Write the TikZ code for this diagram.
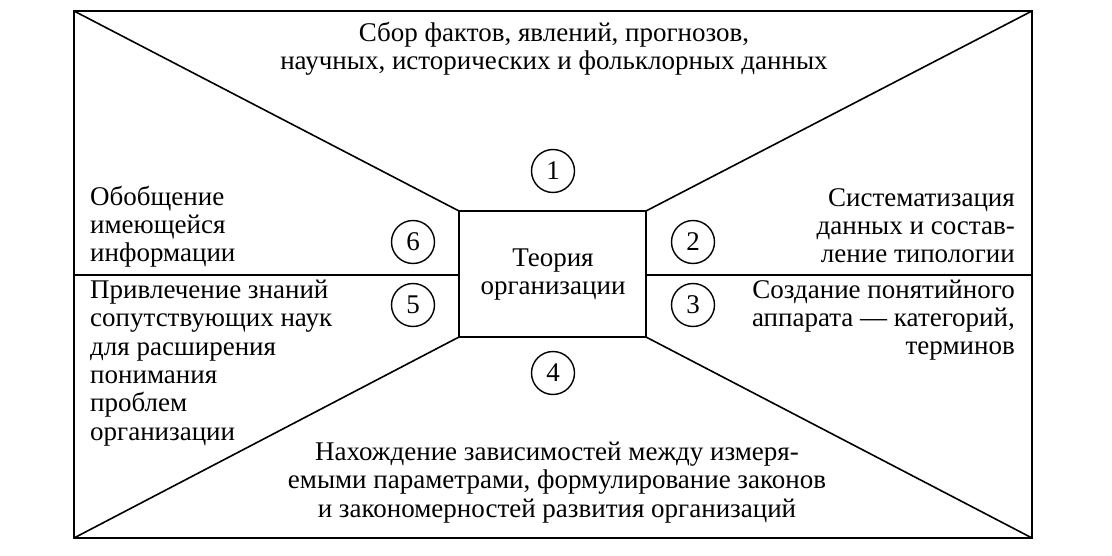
\documentclass[tikz,border=0pt]{standalone}
\usepackage{fontspec}
\setmainfont{Liberation Serif}
\begin{document}
\begin{tikzpicture}[x=1pt,y=-1pt,
  ln/.style={line width=1.6pt,line join=miter},
  txt/.style={inner sep=0pt,font=\fontsize{27}{28.3}\selectfont},
  num/.style={draw,circle,line width=1.4pt,minimum size=43pt,inner sep=0pt,font=\fontsize{27}{28}\selectfont}]
\useasboundingbox (0,0) rectangle (1112,556);
\fill[white] (0,0) rectangle (1112,556);
% outer and inner frames
\coordinate (A) at (74,11);
\coordinate (B) at (1032,11);
\coordinate (C) at (1032,538);
\coordinate (D) at (74,538);
\coordinate (a) at (459,211);
\coordinate (b) at (646,211);
\coordinate (c) at (646,337);
\coordinate (d) at (459,337);
\coordinate (L) at (74,275);
\coordinate (Li) at (459,275);
\coordinate (R) at (1032,275);
\coordinate (Ri) at (646,275);
\draw[ln] (A) rectangle (C);
\draw[ln] (a) rectangle (c);
\draw[ln] (A) -- (a) (B) -- (b) (C) -- (c) (D) -- (d);
\draw[ln] (L) -- (Li) (Ri) -- (R);
% texts (anchor base = baseline of the last line)
\node[txt,anchor=base,align=center] (top) at (554,70) {Сбор фактов, явлений, прогнозов,\\научных, исторических и фольклорных данных};
\node[txt,anchor=base,align=center] (center) at (553,295) {Теория\\организации};
\node[txt,anchor=base west,align=left] (t6) at (90,262) {Обобщение\\имеющейся\\информации};
\node[txt,anchor=base west,align=left] (t5) at (90,440) {Привлечение знаний\\сопутствующих наук\\для расширения\\понимания\\проблем\\организации};
\node[txt,anchor=base east,align=right] (t2) at (1015,263) {Систематизация\\данных и состав-\\ление типологии};
\node[txt,anchor=base east,align=right] (t3) at (1015,355) {Создание понятийного\\аппарата — категорий,\\терминов};
\node[txt,anchor=base,align=center] (t4) at (557,517) {Нахождение зависимостей между измеря-\\емыми параметрами, формулирование законов\\и закономерностей развития организаций};
% numbers
\node[num] (n1) at (553,171) {1};
\node[num] (n2) at (693,242) {2};
\node[num] (n3) at (693,305) {3};
\node[num] (n4) at (553,373) {4};
\node[num] (n5) at (413,305) {5};
\node[num] (n6) at (413,242) {6};
\end{tikzpicture}
\end{document}
